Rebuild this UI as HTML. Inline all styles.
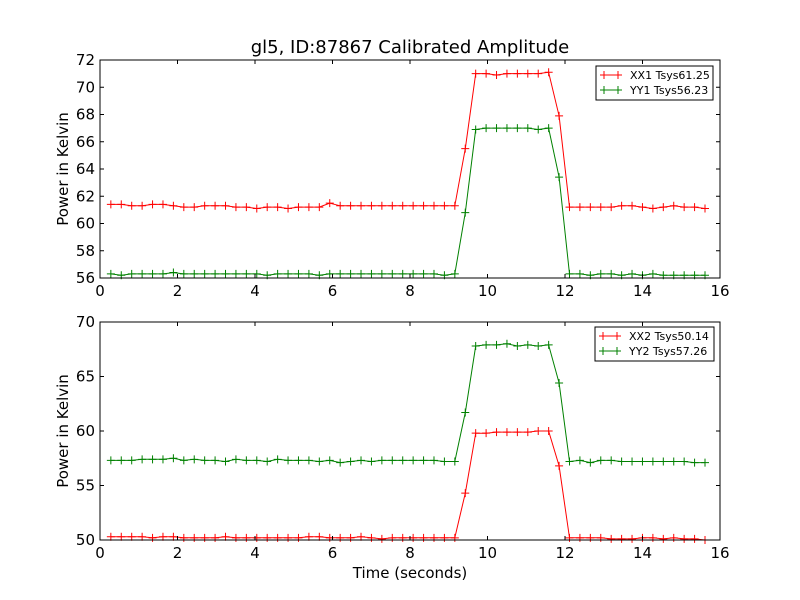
<!DOCTYPE html>
<html><head><meta charset="utf-8"><style>
html,body{margin:0;padding:0;background:#fff}
svg{display:block;font-family:"DejaVu Sans","Liberation Sans",sans-serif}
</style></head><body>
<svg id="fig" width="800" height="600" viewBox="0 0 800 600" xmlns="http://www.w3.org/2000/svg">
<rect width="800" height="600" fill="#fff"/>
<text x="410" y="53" font-size="18" text-anchor="middle">gl5, ID:87867 Calibrated Amplitude</text>
<text x="410" y="578" font-size="15" text-anchor="middle">Time (seconds)</text>
</svg>
<script>
const t0 = 0.28, dt = 0.269;
const xx1 = [61.4,61.4,61.3,61.3,61.4,61.4,61.3,61.2,61.2,61.3,61.3,61.3,61.2,61.2,61.1,61.2,61.2,61.1,61.2,61.2,61.2,61.5,61.3,61.3,61.3,61.3,61.3,61.3,61.3,61.3,61.3,61.3,61.3,61.3,65.5,71.0,71.0,70.9,71.0,71.0,71.0,71.0,71.1,67.9,61.2,61.2,61.2,61.2,61.2,61.3,61.3,61.2,61.1,61.2,61.3,61.2,61.2,61.1];
const yy1 = [56.3,56.2,56.3,56.3,56.3,56.3,56.4,56.3,56.3,56.3,56.3,56.3,56.3,56.3,56.3,56.2,56.3,56.3,56.3,56.3,56.2,56.3,56.3,56.3,56.3,56.3,56.3,56.3,56.3,56.3,56.3,56.3,56.2,56.3,60.8,66.9,67.0,67.0,67.0,67.0,67.0,66.9,67.0,63.4,56.3,56.3,56.2,56.3,56.3,56.2,56.3,56.2,56.3,56.2,56.2,56.2,56.2,56.2];
const xx2 = [50.3,50.3,50.3,50.3,50.2,50.3,50.3,50.2,50.2,50.2,50.2,50.3,50.2,50.2,50.2,50.2,50.2,50.2,50.2,50.3,50.3,50.2,50.2,50.2,50.3,50.2,50.1,50.2,50.2,50.2,50.2,50.2,50.2,50.2,54.3,59.8,59.8,59.9,59.9,59.9,59.9,60.0,60.0,56.8,50.2,50.2,50.2,50.2,50.1,50.1,50.1,50.2,50.2,50.1,50.2,50.1,50.1,50.0];
const yy2 = [57.3,57.3,57.3,57.4,57.4,57.4,57.5,57.3,57.4,57.3,57.3,57.2,57.4,57.3,57.3,57.2,57.4,57.3,57.3,57.3,57.2,57.3,57.1,57.2,57.3,57.2,57.3,57.3,57.3,57.3,57.3,57.3,57.2,57.2,61.7,67.8,67.9,67.9,68.0,67.8,67.9,67.8,67.9,64.4,57.2,57.3,57.1,57.3,57.3,57.2,57.2,57.2,57.2,57.2,57.2,57.2,57.1,57.1];
const xTicks = [0,2,4,6,8,10,12,14,16];
const yTicks1 = [56,58,60,62,64,66,68,70,72];
const yTicks2 = [50,55,60,65,70];
const legend1 = ["XX1 Tsys61.25","YY1 Tsys56.23"];
const legend2 = ["XX2 Tsys50.14","YY2 Tsys57.26"];

const NS="http://www.w3.org/2000/svg", svg=document.getElementById('fig');
function mk(tag,attrs,parent){const e=document.createElementNS(NS,tag);for(const k in attrs)e.setAttribute(k,attrs[k]);(parent||svg).appendChild(e);return e;}

function panel(name,top,bottom,ymin,ymax,yTicks,series,colors,labels,leg){
  const L=100,R=720;
  const g=mk('g',{});
  
  
  const sx=v=>L+(v-0)/(16-0)*(R-L);
  const sy=v=>bottom-(v-ymin)/(ymax-ymin)*(bottom-top);
  series.forEach((s,si)=>{
    const pts=s.map((v,i)=>sx(t0+i*dt).toFixed(1)+','+sy(v).toFixed(1)).join(' ');
    const pl=mk('polyline',{points:pts,fill:'none',stroke:colors[si],'stroke-width':1},g);
    
    
    let d='';
    s.forEach((v,i)=>{const x=sx(t0+i*dt),y=sy(v);d+=`M${x-4},${y}H${x+4}M${x},${y-4}V${y+4}`;});
    const mp=mk('path',{d:d,stroke:colors[si],'stroke-width':1,fill:'none'},g);
    
    
  });
  const fr=mk('rect',{x:L,y:top,width:R-L,height:bottom-top,fill:'none',stroke:'#000','stroke-width':1},g);
  
  
  xTicks.forEach(v=>{
    const x=sx(v);
    mk('path',{d:`M${x},${bottom}v-4M${x},${top}v4`,stroke:'#000'},g);
    const t=mk('text',{x:x,y:bottom+18,'font-size':15,'text-anchor':'middle'},g);
    t.textContent=v;
    
    
  });
  yTicks.forEach(v=>{
    const y=sy(v);
    mk('path',{d:`M${L},${y}h4M${R},${y}h-4`,stroke:'#000'},g);
    const t=mk('text',{x:L-5,y:y+5,'font-size':15,'text-anchor':'end'},g);
    t.textContent=v;
    
    
  });
  const yt=mk('text',{x:0,y:0,'font-size':15,'text-anchor':'middle',transform:`translate(68,${(top+bottom)/2}) rotate(-90)`},g);
  yt.textContent='Power in Kelvin';
  
  
  const lg=mk('g',{},g);
  
  
  mk('rect',{x:leg[0],y:leg[1],width:leg[2],height:34,fill:'#fff',stroke:'#000'},lg);
  labels.forEach((lab,i)=>{
    const y=leg[1]+9+i*15;
    const e=mk('g',{},lg);
    
    
    mk('path',{d:`M${leg[0]+4},${y}h22M${leg[0]+8},${y-4}v8M${leg[0]+22},${y-4}v8`,stroke:colors[i]},e);
    const t=mk('text',{x:leg[0]+34,y:y+4,'font-size':11},e);
    t.textContent=lab;
  });
}
panel('top-panel',60,278,56,72,yTicks1,[xx1,yy1],['#ff0000','#008000'],legend1,[596,66,117]);
panel('bottom-panel',322,540,50,70,yTicks2,[xx2,yy2],['#ff0000','#008000'],legend2,[595,327,119]);
</script>
</body></html>
